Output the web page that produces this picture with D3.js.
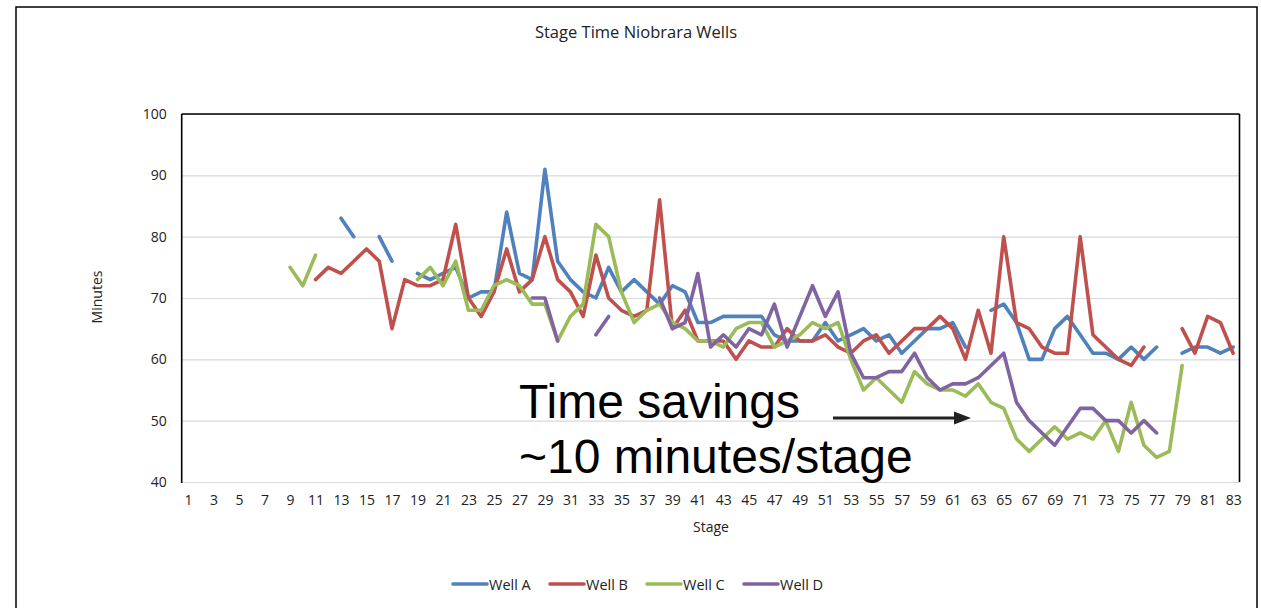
<!DOCTYPE html>
<html><head><meta charset="utf-8">
<script src="https://cdn.jsdelivr.net/npm/d3@7"></script>
<style>body{margin:0;background:#fff} svg{display:block}</style>
</head><body><svg id="c" width="1261" height="608"></svg>
<script>
const stages = [1,2,3,4,5,6,7,8,9,10,11,12,13,14,15,16,17,18,19,20,21,22,23,24,25,26,27,28,29,30,31,32,33,34,35,36,37,38,39,40,41,42,43,44,45,46,47,48,49,50,51,52,53,54,55,56,57,58,59,60,61,62,63,64,65,66,67,68,69,70,71,72,73,74,75,76,77,78,79,80,81,82,83];
const xTickLabels = [1,3,5,7,9,11,13,15,17,19,21,23,25,27,29,31,33,35,37,39,41,43,45,47,49,51,53,55,57,59,61,63,65,67,69,71,73,75,77,79,81,83];
const yTicks = [40,50,60,70,80,90,100];
const seriesNames = ["Well A","Well B","Well C","Well D"];
const seriesColors = ["#4F81BD","#C0504D","#9BBB59","#8064A2"];

const wellA = [null,null,null,null,null,null,null,null,null,null,null,null,
 83,80,null,80,76,null,74,73,74,75,70,71,71,84,74,73,91,76,73,71,70,75,71,73,71,69,72,71,
 66,66,67,67,67,67,64,63,63,63,66,63,64,65,63,64,61,63,65,65,66,62,null,68,69,66,60,60,65,67,
 64,61,61,60,62,60,62,null,61,62,62,61,62];
const wellB = [null,null,null,null,null,null,null,null,null,null,
 73,75,74,76,78,76,65,73,72,72,73,82,70,67,71,78,71,73,80,73,71,67,77,70,68,67,68,86,65,68,
 63,63,63,60,63,62,62,65,63,63,64,62,61,63,64,61,63,65,65,67,65,60,68,61,80,66,65,62,61,61,
 80,64,62,60,59,62,null,null,65,61,67,66,61];
const wellC = [null,null,null,null,null,null,null,null,
 75,72,77,null,null,null,null,null,null,null,73,75,72,76,68,68,72,73,72,69,69,63,67,69,82,80,71,66,68,69,66,65,
 63,63,62,65,66,66,62,63,64,66,65,66,60,55,57,55,53,58,56,55,55,54,56,53,52,47,45,47,49,47,
 48,47,50,45,53,46,44,45,59,null,null,null,null];
const wellD = [null,null,null,null,null,null,null,null,null,null,null,null,null,null,null,null,null,null,null,null,null,null,null,null,null,null,null,
 70,70,63,null,null,64,67,null,null,null,70,65,66,
 74,62,64,62,65,64,69,62,67,72,67,71,61,57,57,58,58,61,57,55,56,56,57,59,61,53,50,48,46,49,
 52,52,50,50,48,50,48,null,null,null,null,null,null];
const seriesData = [wellA, wellB, wellC, wellD];

const svg = d3.select("#c");
const L = 181.7, R = 1239.5, T = 114, B = 482;
const font = "'Open Sans', sans-serif";

// outer chart border
svg.append("rect").attr("x",16).attr("y",7).attr("width",1241).attr("height",640)
  .attr("fill","none").attr("stroke","#000").attr("stroke-width",1.5);

const x = d3.scalePoint().domain(stages).range([L, R]).padding(0.5);
const y = d3.scaleLinear().domain([40,100]).range([B, T]);

// gridlines
svg.append("g").attr("transform",`translate(${L},0)`)
  .call(d3.axisLeft(y).tickValues(yTicks).tickSize(-(R-L)).tickFormat(""))
  .call(g => g.select(".domain").remove())
  .call(g => g.selectAll("line").attr("stroke","#D9D9D9").attr("stroke-width",1.2));

// plot borders: top, left, right black
svg.append("line").attr("x1",L).attr("x2",R).attr("y1",y(100)).attr("y2",y(100)).attr("stroke","#000").attr("stroke-width",1.6);
svg.append("line").attr("x1",L).attr("x2",L).attr("y1",T).attr("y2",B+1).attr("stroke","#000").attr("stroke-width",1.6);
svg.append("line").attr("x1",R).attr("x2",R).attr("y1",T).attr("y2",B).attr("stroke","#000").attr("stroke-width",1.6);

// y labels
svg.append("g").attr("transform",`translate(${L},0)`)
  .call(d3.axisLeft(y).tickValues(yTicks).tickSize(0).tickPadding(15))
  .call(g => g.select(".domain").remove())
  .call(g => g.selectAll("text").attr("font-family",font).attr("font-size",14).attr("fill","#222"));

// x labels
svg.append("g").attr("transform",`translate(0,${B})`)
  .call(d3.axisBottom(x).tickValues(xTickLabels).tickSize(0).tickPadding(13))
  .call(g => g.select(".domain").remove())
  .call(g => g.selectAll("text").attr("font-family",font).attr("font-size",14).attr("fill","#222"));

// lines
const line = d3.line().defined(d => d.v != null).x(d => x(d.s)).y(d => y(d.v));
seriesData.forEach((arr, i) => {
  const pts = stages.map((s, j) => ({s, v: arr[j]}));
  svg.append("path").datum(pts).attr("d", line)
    .attr("fill","none").attr("stroke",seriesColors[i]).attr("stroke-width",3.6)
    .attr("stroke-linejoin","round").attr("stroke-linecap","round");
});

// titles
svg.append("text").attr("x",636).attr("y",38).attr("text-anchor","middle")
  .attr("font-family",font).attr("font-size",16.5).attr("fill","#222").text("Stage Time Niobrara Wells");
svg.append("text").attr("x",711).attr("y",532).attr("text-anchor","middle")
  .attr("font-family",font).attr("font-size",14).attr("fill","#222").text("Stage");
svg.append("text").attr("transform","translate(102,297) rotate(-90)").attr("text-anchor","middle")
  .attr("font-family",font).attr("font-size",14).attr("fill","#222").text("Minutes");

// legend
const legX = [453, 550, 647, 744];
seriesNames.forEach((n, i) => {
  const g = svg.append("g").attr("transform",`translate(${legX[i]},584)`);
  g.append("line").attr("x1",0).attr("x2",34).attr("y1",0).attr("y2",0)
    .attr("stroke",seriesColors[i]).attr("stroke-width",3.6).attr("stroke-linecap","round");
  g.append("text").attr("x",36).attr("y",5.5).attr("font-family",font).attr("font-size",14.5)
    .attr("fill","#222").text(n);
});

// annotation
const ann = svg.append("g").attr("font-family","'Liberation Sans', Arial, sans-serif").attr("font-size",48).attr("fill","#000");
ann.append("text").attr("x",519).attr("y",418).text("Time savings");
ann.append("text").attr("x",519).attr("y",473).text("~10 minutes/stage");
svg.append("line").attr("x1",833).attr("x2",956).attr("y1",418).attr("y2",418)
  .attr("stroke","#222").attr("stroke-width",3);
svg.append("path").attr("d","M954,411.5 L971,418 L954,424.5 Z").attr("fill","#222");
</script></body></html>
